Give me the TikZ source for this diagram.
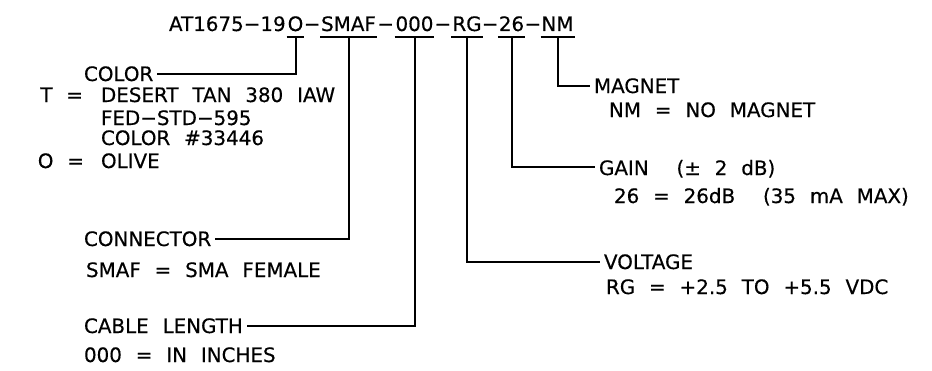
\documentclass[tikz,border=0pt]{standalone}
\usepackage{fontspec}
\setmainfont{DejaVu Sans}[WordSpace=2.2, FakeBold=0.4]
\usetikzlibrary{calc}
\begin{document}
\begin{tikzpicture} [x = 0.75pt, y = -0.75pt, line width = 1.5pt,
	every node/.style = {font = \fontsize{14.9}{18}\selectfont, inner sep = 0pt, text depth = 0pt},
	code/.style = {inner ysep = 3.75pt, anchor = base},
	lbl/.style = {inner xsep = 2.25pt, anchor = base west},
	txt/.style = {anchor = base west}]
	\useasboundingbox (0,0) rectangle (932,371);
	% part number
	\node [code] (clr) at (295.5,31) {O};
	\node [code] (con) at (348.5,31) {SMAF};
	\node [code] (len) at (414.5,31) {000};
	\node [code] (vol) at (467,31) {RG};
	\node [code] (gain) at (511.5,31) {26};
	\node [code] (mag) at (557.5,31) {NM};
	\node [anchor = base east] (pre) at (clr.base west) {AT1675−19};
	\foreach \a/\b in {clr/con, con/len, len/vol, vol/gain, gain/mag}
		\node [anchor = base] (dash-\a) at ($(\a.base east)!.5!(\b.base west)$) {−};
	\foreach \n in {clr, con, len, vol, gain, mag}
		\draw (\n.south west) -- (\n.south east);
	% left side
	\node [lbl] (colorlbl) at (80,81) {COLOR};
	\node [anchor = base east] (tkey) at (84,102) {T =};
	\node [txt] (tval) at (100,102) {DESERT TAN 380 IAW};
	\node [txt] (fed) at (100,125) {FED−STD−595};
	\node [txt] (num) at (100,145) {COLOR \#33446};
	\node [anchor = base east] (okey) at (85,168) {O =};
	\node [txt] (oval) at (100,168) {OLIVE};
	\node [lbl] (conlbl) at (80,246) {CONNECTOR};
	\node [txt] (condesc) at (85,277) {SMAF = SMA FEMALE};
	\node [lbl] (lenlbl) at (80,333) {CABLE LENGTH};
	\node [txt] (lendesc) at (83,362) {000 = IN INCHES};
	% right side
	\node [lbl] (maglbl) at (590,93) {MAGNET};
	\node [txt] (magdesc) at (608,117) {NM = NO MAGNET};
	\node [lbl] (gainlbl) at (595,175) {GAIN\ \ (± 2 dB)};
	\node [txt] (gaindesc) at (613,203) {26 = 26dB\ \ (35 mA MAX)};
	\node [lbl] (vollbl) at (600,269) {VOLTAGE};
	\node [txt] (voldesc) at (605,294) {RG = +2.5 TO +5.5 VDC};
	% leaders
	\draw (clr.south) |- (colorlbl.east);
	\draw (con.south) |- (conlbl.east);
	\draw (len.south) |- (lenlbl.east);
	\draw (mag.south) |- (maglbl.west);
	\draw (gain.south) |- (gainlbl.west);
	\draw (vol.south) |- (vollbl.west);
\end{tikzpicture}
\end{document}
